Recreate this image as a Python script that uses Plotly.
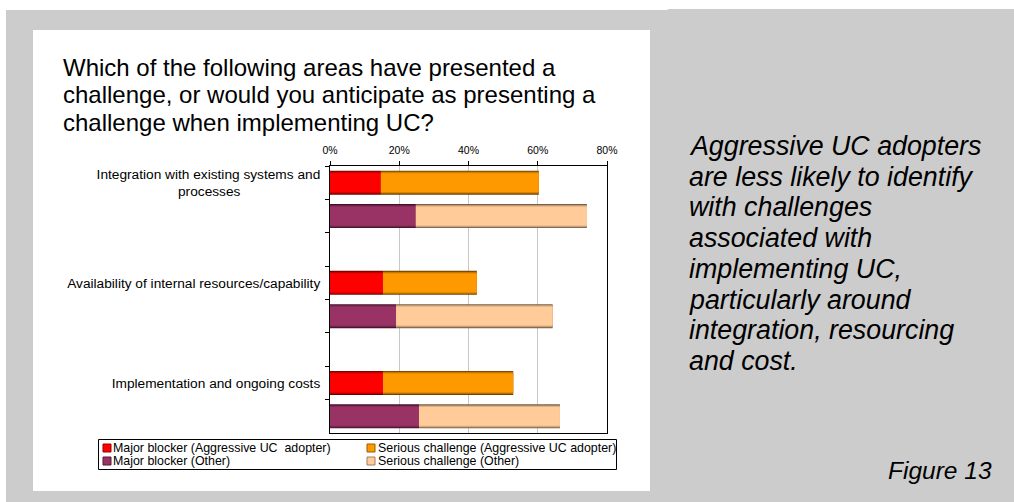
import plotly.graph_objects as go

# ---------------- data ----------------
categories = [
    "Integration with existing systems and processes",
    "Availability of internal resources/capability",
    "Implementation and ongoing costs",
]
major_aggressive = [14.7, 15.3, 15.3]
serious_aggressive = [45.6, 27.1, 37.6]
major_other = [24.8, 19.1, 25.7]
serious_other = [49.4, 45.2, 40.7]

series_names = [
    "Major blocker (Aggressive UC\u00a0 adopter)",
    "Serious challenge (Aggressive UC adopter)",
    "Major blocker (Other)",
    "Serious challenge (Other)",
]
x_ticks = [0, 20, 40, 60, 80]

title_lines = [
    "Which of the following areas have presented a",
    "challenge, or would you anticipate as presenting a",
    "challenge when implementing UC?",
]
side_lines = [
    "Aggressive UC adopters",
    "are less likely to identify",
    "with challenges",
    "associated with",
    "implementing UC,",
    "particularly around",
    "integration, resourcing",
    "and cost.",
]
figure_label = "Figure 13"

# ---------------- geometry helpers ----------------
W, H = 1014, 502
ML, MR, MT, MB = 33, W - 650, 30, H - 491
PW, PH = W - ML - MR, H - MT - MB


def px(x):
    return (x - ML) / PW


def py(y):
    return (H - MB - y) / PH


FONT = "Liberation Sans, Arial, sans-serif"


def hex2rgb(h):
    h = h.lstrip("#")
    return tuple(int(h[i:i + 2], 16) for i in (0, 2, 4))


def mix(c_edge, c_main, t):
    a, b = hex2rgb(c_edge), hex2rgb(c_main)
    r = [round(a[i] + (b[i] - a[i]) * t) for i in range(3)]
    return "rgb(%d,%d,%d)" % tuple(r)


# category slots: label slot (aggressive), other slot, blank gap
def label_text(cat):
    if cat.startswith("Integration"):
        return "Integration with existing systems and<br>processes" + "\u00a0" * 21
    return cat


slots_a, slots_b, slots = [], [], []
for i, cat in enumerate(categories):
    a = label_text(cat)
    b = " " * (2 * i + 1)
    slots_a.append(a)
    slots_b.append(b)
    slots += [a, b]
    if i < len(categories) - 1:
        slots.append(" " * (2 * i + 2))

series = [
    (series_names[0], major_aggressive, [0] * 3, slots_a, "#FF0000", "#6E0000"),
    (series_names[1], serious_aggressive, major_aggressive, slots_a, "#FF9900", "#6E4200"),
    (series_names[2], major_other, [0] * 3, slots_b, "#993366", "#401028"),
    (series_names[3], serious_other, major_other, slots_b, "#FFCC99", "#7A5E46"),
]

layer_w = [0.72, 0.67, 0.62, 0.56]
layer_t = [0.0, 0.45, 0.75, 1.0]

fig = go.Figure()
for name, vals, base, ys, c_main, c_edge in series:
    for k, (w, t) in enumerate(zip(layer_w, layer_t)):
        last = k == len(layer_w) - 1
        fig.add_trace(go.Bar(
            x=vals, y=ys, base=base, orientation="h",
            width=[w] * len(vals),
            marker=dict(color=c_main if last else mix(c_edge, c_main, t), line=dict(width=0)),
            name=name, legendgroup=name, showlegend=False,
            hoverinfo="skip",
        ))

fig.update_layout(
    width=W, height=H,
    margin=dict(l=ML, r=MR, t=MT, b=MB, pad=0),
    paper_bgcolor="white",
    plot_bgcolor="white",
    barmode="overlay",
    font=dict(family=FONT, color="#000000"),
    showlegend=False,
    xaxis=dict(
        domain=[px(330), px(607)],
        range=[0, 80], side="top",
        tickvals=x_ticks, ticktext=["%d%%" % v for v in x_ticks],
        ticks="outside", ticklen=4, tickcolor="#000", tickwidth=1,
        ticklabelstandoff=3,
        tickfont=dict(size=10.5, family=FONT, color="#000"),
        showgrid=True, gridcolor="#C8C8C8", gridwidth=1,
        showline=True, linecolor="#000", linewidth=1, mirror=True,
        zeroline=False, fixedrange=True,
    ),
    yaxis=dict(
        domain=[py(433), py(166)],
        type="category", categoryorder="array", categoryarray=slots,
        range=[len(slots) - 0.5, -0.5],
        tickson="boundaries",
        ticks="outside", ticklen=4, tickcolor="#000", tickwidth=1,
        ticklabelstandoff=6,
        tickfont=dict(size=13.7, family=FONT, color="#000"),
        showgrid=False,
        showline=True, linecolor="#000", linewidth=1, mirror=True,
        zeroline=False, fixedrange=True,
    ),
)

# background panels and legend box
shapes = [
    dict(type="rect", xref="paper", yref="paper", x0=px(6), x1=px(W), y0=py(H), y1=py(10),
         fillcolor="#CCCCCC", line=dict(width=0), layer="below"),
    dict(type="rect", xref="paper", yref="paper", x0=px(668), x1=px(W), y0=py(10), y1=py(9),
         fillcolor="#CCCCCC", line=dict(width=0), layer="below"),
    dict(type="rect", xref="paper", yref="paper", x0=px(33), x1=px(650), y0=py(491), y1=py(30),
         fillcolor="white", line=dict(width=0), layer="below"),
    dict(type="rect", xref="paper", yref="paper", x0=px(98.5), x1=px(616.5), y0=py(469.5), y1=py(439.5),
         fillcolor="white", line=dict(color="#000", width=1), layer="above"),
]

annotations = []
# manual legend (2 x 2)
leg_sw_x = [103, 367]
leg_tx_x = [111, 376]
leg_row_y = [448, 461]
for idx, (name, vals, base, ys, c_main, c_edge) in enumerate(series):
    col, row = idx % 2, idx // 2
    sx, sy = leg_sw_x[col], leg_row_y[row]
    shapes.append(dict(type="rect", xref="paper", yref="paper",
                       x0=px(sx), x1=px(sx + 8), y0=py(sy + 4), y1=py(sy - 4),
                       fillcolor=c_main, line=dict(color=mix(c_edge, c_main, 0.3), width=1),
                       layer="above"))
    annotations.append(dict(
        text=name, xref="paper", yref="paper", x=px(leg_tx_x[col]), y=py(sy),
        xanchor="left", yanchor="middle", showarrow=False,
        font=dict(size=12.4, family=FONT, color="#000"),
    ))
fig.update_layout(shapes=shapes)

for i, line in enumerate(title_lines):
    annotations.append(dict(
        text=line, xref="paper", yref="paper", x=px(61), y=py(67 + i * 27.5),
        xanchor="left", yanchor="middle", showarrow=False,
        font=dict(size=24, family=FONT, color="#000"),
    ))
for i, line in enumerate(side_lines):
    annotations.append(dict(
        text="<i>%s</i>" % line, xref="paper", yref="paper", x=px(687), y=py(146 + i * 30.7),
        xanchor="left", yanchor="middle", showarrow=False,
        font=dict(size=26.8, family=FONT, color="#000"),
    ))
annotations.append(dict(
    text="<i>%s</i>" % figure_label, xref="paper", yref="paper", x=px(994), y=py(470),
    xanchor="right", yanchor="middle", showarrow=False,
    font=dict(size=24.5, family=FONT, color="#000"),
))
fig.update_layout(annotations=annotations)

fig.write_html("out.html")
